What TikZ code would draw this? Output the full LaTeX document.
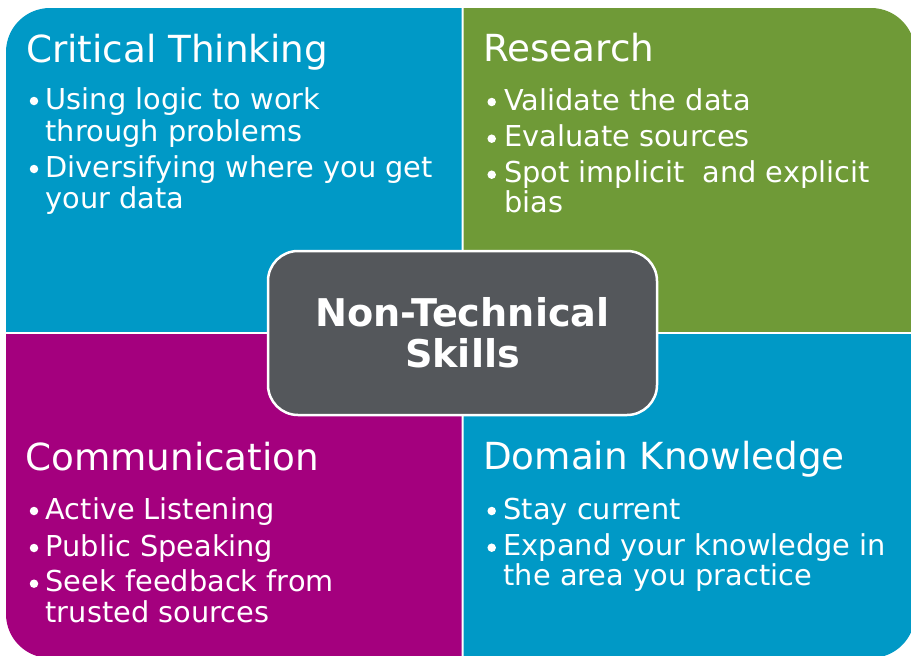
\documentclass[tikz,border=0pt]{standalone}
\usepackage{fontspec}
\setmainfont{DejaVu Sans}
\definecolor{skillcyan}{RGB}{0,153,198}
\definecolor{skillgreen}{RGB}{111,154,55}
\definecolor{skillmagenta}{RGB}{164,0,126}
\definecolor{skillgrey}{RGB}{84,87,91}
\tikzset{
  heading/.style={anchor=base west, inner sep=0pt, text=white,
    font=\fontsize{37.3}{40}\selectfont},
  item/.style={anchor=base west, inner sep=0pt, text=white,
    font=\fontsize{28.8}{31.5}\selectfont},
  dot/.style={circle, fill=white, inner sep=0pt, minimum size=8.5pt},
  corebox/.style={rectangle, rounded corners=30pt, fill=skillgrey, draw=white,
    line width=2.5pt, minimum width=389pt, minimum height=164pt,
    text=white, align=center, font=\fontsize{38.2}{40.5}\selectfont\bfseries},
}
\begin{document}
\begin{tikzpicture}[x=1pt,y=-1pt]
\useasboundingbox (0,0) rectangle (911,656);
\fill[white] (0,0) rectangle (911,656);

% four quadrants cut from one rounded panel
\begin{scope}
  \clip (0,0) rectangle (461.5,331);
  \fill[skillcyan, rounded corners=44pt] (6,8) rectangle (915,658);
\end{scope}
\begin{scope}
  \clip (463.5,0) rectangle (911,331);
  \fill[skillgreen, rounded corners=44pt] (6,8) rectangle (915,658);
\end{scope}
\begin{scope}
  \clip (0,334.5) rectangle (461.5,656);
  \fill[skillmagenta, rounded corners=44pt] (6,8) rectangle (915,658);
\end{scope}
\begin{scope}
  \clip (463.5,334.5) rectangle (911,656);
  \fill[skillcyan, rounded corners=44pt] (6,8) rectangle (915,658);
\end{scope}

% Critical Thinking
\node[heading] (ct) at (26,62) {Critical Thinking};
\node[dot] (ctb1) at (34,101) {};
\node[item] (ct1) at (45.5,109.3) {Using logic to work};
\node[item] (ct2) at (45.5,141) {through problems};
\node[dot] (ctb2) at (34,169) {};
\node[item] (ct3) at (45.5,177) {Diversifying where you get};
\node[item] (ct4) at (45.5,208) {your data};

% Research
\node[heading] (rs) at (483,61) {Research};
\node[dot] (rsb1) at (491.7,102) {};
\node[item] (rs1) at (504,110) {Validate the data};
\node[dot] (rsb2) at (491.7,138.7) {};
\node[item] (rs2) at (504,146.7) {Evaluate sources};
\node[dot] (rsb3) at (491.7,174.7) {};
\node[item] (rs3) at (504,182.7) {Spot implicit\ \ and explicit};
\node[item] (rs4) at (504,212.7) {bias};

% Communication
\node[heading] (cm) at (25,470) {Communication};
\node[dot] (cmb1) at (34,511) {};
\node[item] (cm1) at (45.5,519) {Active Listening};
\node[dot] (cmb2) at (34,548) {};
\node[item] (cm2) at (45.5,556) {Public Speaking};
\node[dot] (cmb3) at (34,583.7) {};
\node[item] (cm3) at (45.5,591.7) {Seek feedback from};
\node[item] (cm4) at (45.5,622.7) {trusted sources};

% Domain Knowledge
\node[heading] (dk) at (483,469) {Domain Knowledge};
\node[dot] (dkb1) at (491.7,511) {};
\node[item] (dk1) at (503.5,519) {Stay current};
\node[dot] (dkb2) at (491.7,547.7) {};
\node[item] (dk2) at (503.5,555.7) {Expand your knowledge in};
\node[item] (dk3) at (503.5,585.7) {the area you practice};

% central box
\node[corebox] (core) at (462.5,333) {Non-Technical\\Skills};
\end{tikzpicture}
\end{document}
